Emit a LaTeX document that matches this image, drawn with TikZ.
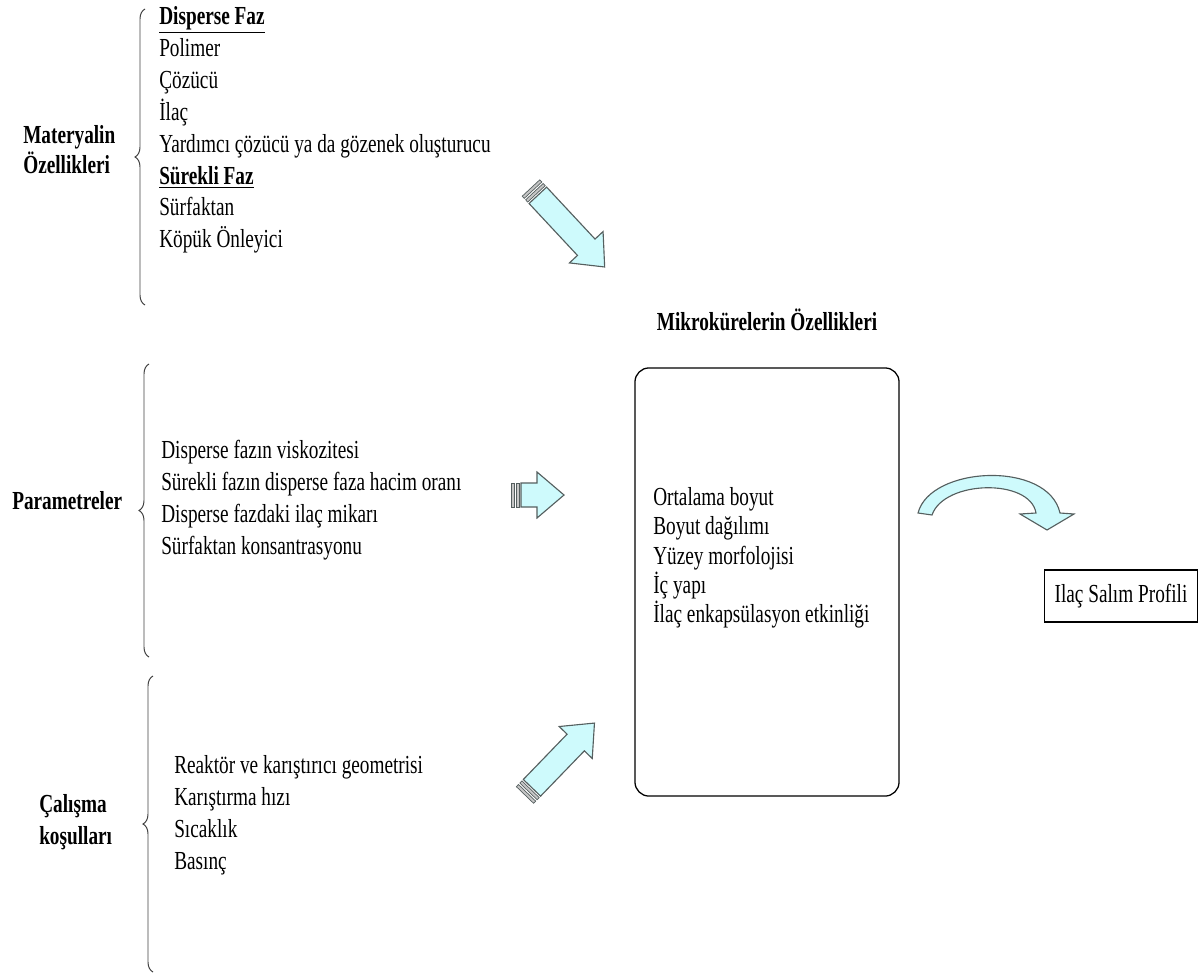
\documentclass[tikz,border=0pt]{standalone}
\usepackage{fontspec}
\setmainfont{Liberation Serif}
\usetikzlibrary{decorations.pathreplacing,positioning}

\definecolor{okmavi}{RGB}{206,250,252}
\definecolor{okkenar}{RGB}{85,95,95}

\tikzset{
  liste/.style={anchor=west, align=left, inner sep=0pt, yscale=1.35, font=\fontsize{13.7}{16.8}\selectfont},
  kutuliste/.style={liste, font=\fontsize{13.7}{15.4}\selectfont},
  etiket/.style={anchor=west, align=left, inner sep=0pt, yscale=1.35, font=\bfseries\fontsize{13.7}{15.8}\selectfont},
  parantez/.style={decorate, decoration={brace, amplitude=0.25cm}, line width=0.7pt, black!75},
  blokok/.pic={
    \draw[okkenar, fill=gray!45, line width=0.5pt] (0,-12) rectangle (3,12) (5,-12) rectangle (8,12);
    \draw[okkenar, fill=okmavi, line width=0.8pt] (10,-12) -- (#1-27,-12) -- (#1-27,-23) -- (#1,0)
      -- (#1-27,23) -- (#1-27,12) -- (10,12) -- cycle;
  }
}

\begin{document}
\begin{tikzpicture}[x=0.025cm, y=-0.025cm]
    \useasboundingbox (0,0) rectangle (1200,978);

    % Etiketler
    \node[etiket] (mat) at (23,150) {Materyalin\\Özellikleri};
    \node[etiket] (par) at (12,501) {Parametreler};
    \node[etiket, font=\bfseries\fontsize{13.7}{16.6}\selectfont] (cal) at (39,822) {Çalışma\\koşulları};

    % Parantezler
    \draw[parantez] (145,305) -- (145,9);
    \draw[parantez] (149,657) -- (149,364);
    \draw[parantez] (153,972) -- (153,676);

    % Listeler
    \node[liste] (matliste) at (159,130) {\underline{\textbf{Disperse Faz}}\\Polimer\\Çözücü\\İlaç\\Yardımcı çözücü ya da gözenek oluşturucu\\\underline{\textbf{Sürekli Faz}}\\Sürfaktan\\Köpük Önleyici};
    \node[liste] (parliste) at (161,500) {Disperse fazın viskozitesi\\Sürekli fazın disperse faza hacim oranı\\Disperse fazdaki ilaç mikarı\\Sürfaktan konsantrasyonu};
    \node[liste] (calliste) at (174,815) {Reaktör ve karıştırıcı geometrisi\\Karıştırma hızı\\Sıcaklık\\Basınç};

    % Kutu
    \node[etiket, anchor=center] (mkbaslik) at (767,320) {Mikrokürelerin Özellikleri};
    \node[draw, rounded corners=0.35cm, line width=0.9pt, minimum width=6.6cm, minimum height=10.7cm] (ozkutu) at (767,582) {};
    \node[kutuliste] (ozliste) at (653,558) {Ortalama boyut\\Boyut dağılımı\\Yüzey morfolojisi\\İç yapı\\İlaç enkapsülasyon etkinliği};
    \node[draw, line width=0.9pt, inner sep=0pt, minimum width=3.83cm, minimum height=0.96cm, yscale=1.35, font=\fontsize{13.7}{16}\selectfont] (salim) at (1121,596) {Ilaç Salım Profili};

    % Oklar
    \coordinate (ok1) at (531,188);
    \coordinate (ok2) at (511,495);
    \coordinate (ok3) at (525,795);
    \pic[rotate=-47] at (ok1) {blokok=108};
    \pic at (ok2) {blokok=53};
    \pic[rotate=46] at (ok3) {blokok=100};
    \coordinate (egri) at (918,513);
    \draw[okkenar, fill=okmavi, line width=0.8pt] (egri) .. controls (930,466) and (1048,460) .. (1060,513)
        -- (1074,514) -- (1047,530) -- (1020,514) -- (1036,513) .. controls (1030,478) and (944,480) .. (932,515) -- cycle;
\end{tikzpicture}
\end{document}
